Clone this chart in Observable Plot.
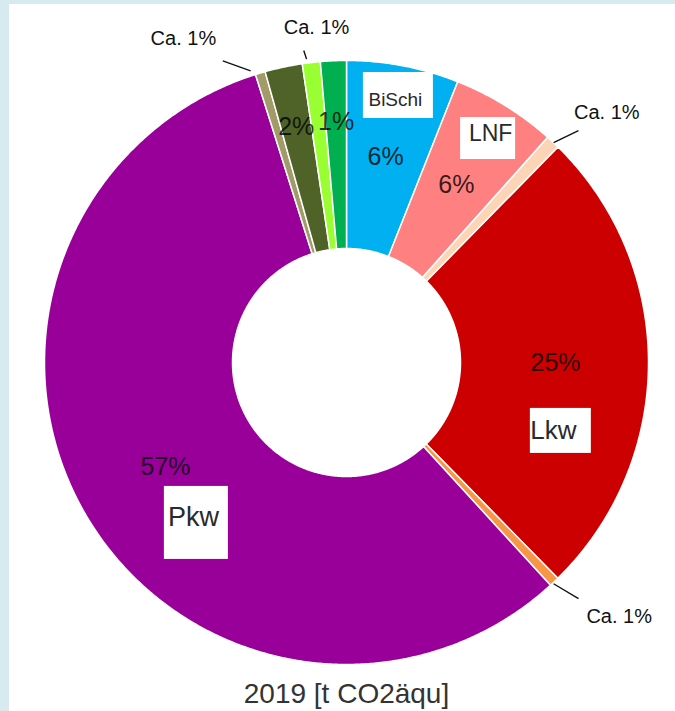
<!DOCTYPE html>
<html><head><meta charset="utf-8">
<script src="https://cdn.jsdelivr.net/npm/d3@7"></script>
<script src="https://cdn.jsdelivr.net/npm/@observablehq/plot@0.6"></script>
<style>
html,body{margin:0;padding:0;background:#fff;}
body{width:675px;height:711px;position:relative;overflow:hidden;font-family:"Liberation Sans",Arial,sans-serif;}
#frameL{position:absolute;left:0;top:0;width:9px;height:711px;background:#d6eaef;z-index:2}
#frameT{position:absolute;left:0;top:0;width:675px;height:4px;background:#d6eaef;z-index:2}
#chart svg{display:block}
#caption{width:657px;padding-left:18px;text-align:center;font-size:28px;line-height:30px;color:#333;}
</style></head><body>
<div id="frameL"></div><div id="frameT"></div>
<div id="chart"></div>
<div id="caption">2019 [t CO2äqu]</div>
<script>
// ---- data (clockwise from 12 o'clock) ----
const categories = ["BiSchi", "LNF", "Segment 3", "Lkw", "Segment 5", "Pkw", "Segment 7", "Segment 8", "Segment 9", "Segment 10"];
const shares = [6.0, 5.6, 0.75, 25.3, 0.53, 56.9, 0.53, 2.0, 0.96, 1.38];
const valueLabels = ["6%", "6%", "Ca. 1%", "25%", "Ca. 1%", "57%", "Ca. 1%", "2%", "Ca. 1%", "1%"];
const nameLabels = ["BiSchi", "LNF", "", "Lkw", "", "Pkw", "", "", "", ""];

// ---- styles / layout ----
const colors = ["#00b0f0", "#ff8080", "#fbd5b5", "#cc0000", "#f79646", "#990099", "#a39a6a", "#4f6228", "#99ff33", "#00b050"];
const W = 675, H = 679, CX = 346, CY = 362;
const R0 = 114, R1 = 302;
const FONT = "Liberation Sans, Arial, sans-serif";
const deg = Math.PI / 180;
const polar = (a, r) => ({x: r * Math.sin(a), y: r * Math.cos(a)});

const nameLayout = {
  "BiSchi": {a: 11.0, r: 272, w: 70, h: 46, fs: 19, dx: -3, dy: 4},
  "LNF":    {a: 32.3, r: 265, w: 55, h: 42, fs: 23, dx: 2.5, dy: -4.5},
  "Lkw":    {a: 107.7, r: 225, w: 61, h: 45, fs: 26, dx: -7.5, dy: 0},
  "Pkw":    {a: 223.1, r: 219.7, w: 64, h: 73, fs: 27, dx: -3, dy: -5.5}
};
const calloutLayout = {
  "Segment 3":  {l0: [43.3, 302], l1: [45.0, 328], t: [46.2, 360.7]},
  "Segment 5":  {l0: [136.9, 303], l1: [135.5, 331], t: [133.0, 372.9]},
  "Segment 7":  {l0: [-18.2, 307], l1: [-22.3, 326], t: [-26.7, 363]},
  "Segment 9":  {l0: [-7.5, 306], l1: [-7.8, 315], t: [-5.1, 336.3]}
};

// ---- geometry from data ----
const total = d3.sum(shares);
let acc = 0;
const slices = categories.map((c, i) => {
  const a0 = acc / total * 2 * Math.PI;
  acc += shares[i];
  const a1 = acc / total * 2 * Math.PI;
  return {c, i, a0, a1, mid: (a0 + a1) / 2};
});
const pts = [];
for (const s of slices) {
  const n = Math.max(2, Math.ceil((s.a1 - s.a0) / (0.4 * deg)));
  for (let k = 0; k <= n; k++) { const a = s.a0 + (s.a1 - s.a0) * k / n; pts.push({c: s.c, ...polar(a, R1)}); }
  for (let k = n; k >= 0; k--) { const a = s.a0 + (s.a1 - s.a0) * k / n; pts.push({c: s.c, ...polar(a, R0)}); }
}
const inner = slices.filter(s => !valueLabels[s.i].startsWith("Ca.")).map(s => ({
  text: valueLabels[s.i], ...polar(s.mid, shares[s.i] >= 5 ? 209 : 241)
}));
const names = slices.filter(s => nameLabels[s.i]).map(s => {
  const L = nameLayout[nameLabels[s.i]];
  const p = polar(L.a * deg, L.r);
  return {text: nameLabels[s.i], x: p.x, y: p.y, x1: p.x - L.w / 2, x2: p.x + L.w / 2, y1: p.y - L.h / 2, y2: p.y + L.h / 2,
          tx: p.x + L.dx, ty: p.y - L.dy, fs: L.fs};
});
const callouts = slices.filter(s => valueLabels[s.i].startsWith("Ca.")).map(s => {
  const L = calloutLayout[s.c];
  const p0 = polar(L.l0[0] * deg, L.l0[1]), p1 = polar(L.l1[0] * deg, L.l1[1]), t = polar(L.t[0] * deg, L.t[1]);
  return {text: valueLabels[s.i], x1: p0.x, y1: p0.y, x2: p1.x, y2: p1.y, tx: t.x, ty: t.y};
});

const chart = Plot.plot({
  width: W, height: H, margin: 0,
  style: {background: "transparent", fontFamily: FONT},
  x: {domain: [-CX, W - CX], axis: null},
  y: {domain: [-(H - CY), CY], axis: null},
  color: {domain: categories, range: colors},
  marks: [
    Plot.line(pts, {x: "x", y: "y", z: "c", fill: "c", stroke: "white", strokeWidth: 1.5, curve: "linear-closed"}),
    Plot.text(inner, {x: "x", y: "y", text: "text", fontSize: 25, fill: "#000", fillOpacity: 0.8, fontFamily: FONT}),
    Plot.rect(names, {x1: "x1", x2: "x2", y1: "y1", y2: "y2", fill: "white"}),
    ...names.map(d => Plot.text([d], {x: "tx", y: "ty", text: "text", fontSize: d.fs, fill: "#2a2a2a", fontFamily: FONT})),
    Plot.link(callouts, {x1: "x1", y1: "y1", x2: "x2", y2: "y2", stroke: "#111", strokeWidth: 1.4}),
    Plot.text(callouts, {x: "tx", y: "ty", text: "text", fontSize: 20, fill: "#111", fontFamily: FONT})
  ]
});
document.getElementById("chart").appendChild(chart);
</script>
</body></html>
